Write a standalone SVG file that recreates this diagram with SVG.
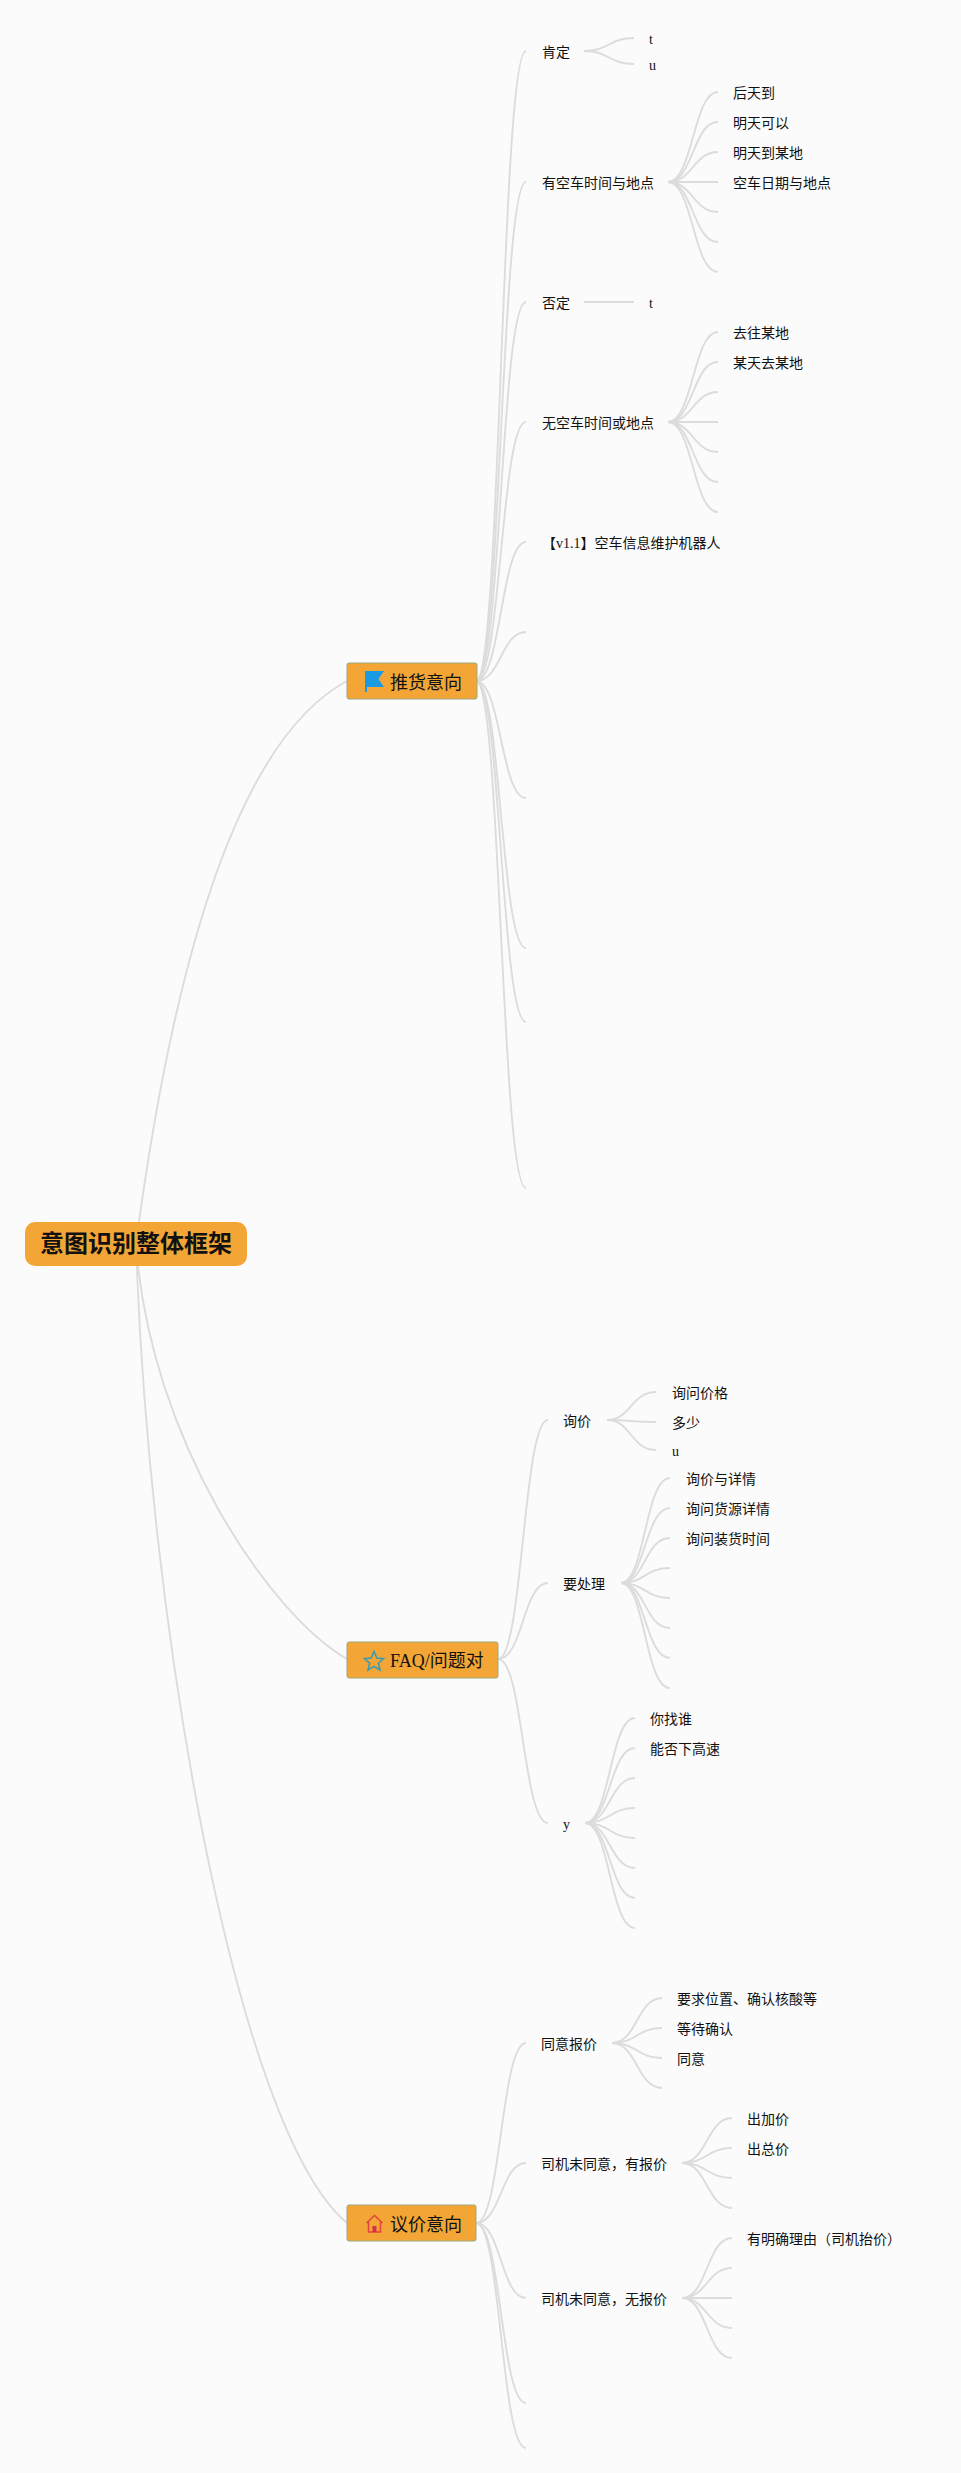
<svg xmlns="http://www.w3.org/2000/svg" width="961" height="2473" viewBox="0 0 961 2473">
<style>
text{font-family:"Liberation Serif","Noto Sans CJK SC",sans-serif;fill:#111}
.t{font-size:14px}
.b{font-size:18px}
.r{font-size:24px;font-weight:bold;font-family:"Liberation Sans","Noto Sans CJK SC",sans-serif;text-anchor:middle}
.br{fill:#f3a536;stroke:#9aa87c;stroke-width:1}
#connectors path{fill:none;stroke:#dcdcdc;stroke-width:1.900}
</style>
<rect width="961" height="2473" fill="#fbfbfb"/>
<g id="connectors">
<path d="M136 1244Q200 760 347 681"/>
<path d="M136 1244C150 1440 270 1615 347 1659"/>
<path d="M136 1244C148 1620 235 2130 347 2223"/>
<path d="M476 681C501 681 501 51 526 51"/>
<path d="M476 681C501 681 501 182 526 182"/>
<path d="M476 681C501 681 501 302 526 302"/>
<path d="M476 681C501 681 501 422 526 422"/>
<path d="M476 681C501 681 501 542 526 542"/>
<path d="M476 681C501 681 501 632 526 632"/>
<path d="M476 681C501 681 501 798 526 798"/>
<path d="M476 681C501 681 501 948 526 948"/>
<path d="M476 681C501 681 501 1022 526 1022"/>
<path d="M476 681C501 681 501 1188 526 1188"/>
<path d="M584 51C609 51 609 38 634 38"/>
<path d="M584 51C609 51 609 64 634 64"/>
<path d="M668 182C693 182 693 92 718 92"/>
<path d="M668 182C693 182 693 122 718 122"/>
<path d="M668 182C693 182 693 152 718 152"/>
<path d="M668 182L718 182"/>
<path d="M668 182C693 182 693 212 718 212"/>
<path d="M668 182C693 182 693 242 718 242"/>
<path d="M668 182C693 182 693 272 718 272"/>
<path d="M584 302L634 302"/>
<path d="M668 422C693 422 693 332 718 332"/>
<path d="M668 422C693 422 693 362 718 362"/>
<path d="M668 422C693 422 693 392 718 392"/>
<path d="M668 422L718 422"/>
<path d="M668 422C693 422 693 452 718 452"/>
<path d="M668 422C693 422 693 482 718 482"/>
<path d="M668 422C693 422 693 512 718 512"/>
<path d="M498 1659C523 1659 523 1420 548 1420"/>
<path d="M498 1659C523 1659 523 1583 548 1583"/>
<path d="M498 1659C523 1659 523 1823 548 1823"/>
<path d="M607 1420C631 1420 631 1392 656 1392"/>
<path d="M607 1420C631 1420 631 1422 656 1422"/>
<path d="M607 1420C631 1420 631 1450 656 1450"/>
<path d="M621 1583C645 1583 645 1478 670 1478"/>
<path d="M621 1583C645 1583 645 1508 670 1508"/>
<path d="M621 1583C645 1583 645 1538 670 1538"/>
<path d="M621 1583C645 1583 645 1568 670 1568"/>
<path d="M621 1583C645 1583 645 1598 670 1598"/>
<path d="M621 1583C645 1583 645 1628 670 1628"/>
<path d="M621 1583C645 1583 645 1658 670 1658"/>
<path d="M621 1583C645 1583 645 1688 670 1688"/>
<path d="M585 1823C610 1823 610 1718 635 1718"/>
<path d="M585 1823C610 1823 610 1748 635 1748"/>
<path d="M585 1823C610 1823 610 1778 635 1778"/>
<path d="M585 1823C610 1823 610 1808 635 1808"/>
<path d="M585 1823C610 1823 610 1838 635 1838"/>
<path d="M585 1823C610 1823 610 1868 635 1868"/>
<path d="M585 1823C610 1823 610 1898 635 1898"/>
<path d="M585 1823C610 1823 610 1928 635 1928"/>
<path d="M476 2223C501 2223 501 2043 526 2043"/>
<path d="M476 2223C501 2223 501 2163 526 2163"/>
<path d="M476 2223C501 2223 501 2298 526 2298"/>
<path d="M476 2223C501 2223 501 2403 526 2403"/>
<path d="M476 2223C501 2223 501 2448 526 2448"/>
<path d="M612 2043C637 2043 637 1998 662 1998"/>
<path d="M612 2043C637 2043 637 2028 662 2028"/>
<path d="M612 2043C637 2043 637 2058 662 2058"/>
<path d="M612 2043C637 2043 637 2088 662 2088"/>
<path d="M682 2163C707 2163 707 2118 732 2118"/>
<path d="M682 2163C707 2163 707 2148 732 2148"/>
<path d="M682 2163C707 2163 707 2178 732 2178"/>
<path d="M682 2163C707 2163 707 2208 732 2208"/>
<path d="M682 2298C707 2298 707 2238 732 2238"/>
<path d="M682 2298C707 2298 707 2268 732 2268"/>
<path d="M682 2298L732 2298"/>
<path d="M682 2298C707 2298 707 2328 732 2328"/>
<path d="M682 2298C707 2298 707 2358 732 2358"/>
</g>
<g id="root"><rect x="25" y="1222" width="222" height="44" rx="10" fill="#f3a536"/><text class="r" x="136" y="1252">意图识别整体框架</text></g>
<g id="branch-push"><rect class="br" x="347" y="663" width="130" height="36" rx="2"/>
<path d="M365 671H384L378.500 679L384 687H367V692H365Z" fill="#1a9ae0"/><text class="b" x="390" y="689">推货意向</text></g>
<g id="branch-faq"><rect class="br" x="347" y="1642" width="151" height="36" rx="2"/>
<path d="M374 1651.500L376.800 1658.100L383.500 1658.700L378.400 1663.200L380 1670L374 1666.400L368 1670L369.600 1663.200L364.500 1658.700L371.200 1658.100Z" fill="none" stroke="#3a9bb5" stroke-width="1.600"/><text class="b" x="390" y="1667">FAQ/问题对</text></g>
<g id="branch-bargain"><rect class="br" x="347" y="2205" width="129" height="36" rx="2"/>
<path d="M366.500 2223L374.500 2215.500L382.500 2223M368.500 2221.500V2232H380.500V2221.500" fill="none" stroke="#e0453c" stroke-width="1.500"/><rect x="372.500" y="2226" width="4" height="6" fill="#d9304a"/><text class="b" x="390" y="2231">议价意向</text></g>
<g id="n1"><text class="t" x="542" y="57">肯定</text></g>
<g id="n1a"><text class="t" x="649" y="44">t</text></g>
<g id="n1b"><text class="t" x="649" y="70">u</text></g>
<g id="n2"><text class="t" x="542" y="188">有空车时间与地点</text></g>
<g id="n2a"><text class="t" x="733" y="98">后天到</text></g>
<g id="n2b"><text class="t" x="733" y="128">明天可以</text></g>
<g id="n2c"><text class="t" x="733" y="158">明天到某地</text></g>
<g id="n2d"><text class="t" x="733" y="188">空车日期与地点</text></g>
<g id="n3"><text class="t" x="542" y="308">否定</text></g>
<g id="n3a"><text class="t" x="649" y="308">t</text></g>
<g id="n4"><text class="t" x="542" y="428">无空车时间或地点</text></g>
<g id="n4a"><text class="t" x="733" y="338">去往某地</text></g>
<g id="n4b"><text class="t" x="733" y="368">某天去某地</text></g>
<g id="n5"><text class="t" x="542" y="548">【v1.1】空车信息维护机器人</text></g>
<g id="f1"><text class="t" x="563" y="1426">询价</text></g>
<g id="f1a"><text class="t" x="672" y="1398">询问价格</text></g>
<g id="f1b"><text class="t" x="672" y="1428">多少</text></g>
<g id="f1c"><text class="t" x="672" y="1456">u</text></g>
<g id="f2"><text class="t" x="563" y="1589">要处理</text></g>
<g id="f2a"><text class="t" x="686" y="1484">询价与详情</text></g>
<g id="f2b"><text class="t" x="686" y="1514">询问货源详情</text></g>
<g id="f2c"><text class="t" x="686" y="1544">询问装货时间</text></g>
<g id="f3"><text class="t" x="563" y="1829">y</text></g>
<g id="f3a"><text class="t" x="650" y="1724">你找谁</text></g>
<g id="f3b"><text class="t" x="650" y="1754">能否下高速</text></g>
<g id="b1"><text class="t" x="541" y="2049">同意报价</text></g>
<g id="b1a"><text class="t" x="677" y="2004">要求位置、确认核酸等</text></g>
<g id="b1b"><text class="t" x="677" y="2034">等待确认</text></g>
<g id="b1c"><text class="t" x="677" y="2064">同意</text></g>
<g id="b2"><text class="t" x="541" y="2169">司机未同意，有报价</text></g>
<g id="b2a"><text class="t" x="747" y="2124">出加价</text></g>
<g id="b2b"><text class="t" x="747" y="2154">出总价</text></g>
<g id="b3"><text class="t" x="541" y="2304">司机未同意，无报价</text></g>
<g id="b3a"><text class="t" x="747" y="2244">有明确理由（司机抬价）</text></g>
</svg>
